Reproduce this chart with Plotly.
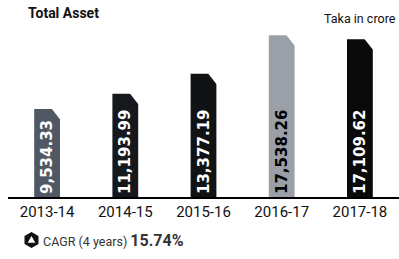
import plotly.graph_objects as go

years = ["2013-14", "2014-15", "2015-16", "2016-17", "2017-18"]
total_asset = [9534.33, 11193.99, 13377.19, 17538.26, 17109.62]
bar_colors = ["#4f5863", "#15181d", "#111214", "#9b9fa7", "#0a0a0a"]
label_colors = ["white", "white", "white", "black", "white"]

title_text = "Total Asset"
unit_text = "Taka in crore"
cagr_label = "CAGR (4 years)"
cagr_value = "15.74%"

NARROW = "Roboto, Liberation Sans, sans-serif"

fig = go.Figure(
    go.Bar(
        x=years,
        y=total_asset,
        marker=dict(color=bar_colors, line=dict(width=0)),
        texttemplate="%{y:,.2f}",
        textposition="inside",
        insidetextanchor="start",
        textangle=-90,
        insidetextfont=dict(family="DejaVu Sans", size=15, color=label_colors, weight="bold"),
        hoverinfo="skip",
    )
)

# chamfered top-right corner of each bar (white triangle anchored at the bar top)
corner_cuts = [
    dict(
        type="path",
        xref="x", yref="y",
        xsizemode="pixel", ysizemode="pixel",
        xanchor=cat, yanchor=val,
        path="M 4 1 L 15 1 L 15 -13 Z",
        fillcolor="white", line=dict(width=0),
        layer="above",
    )
    for cat, val in zip(years, total_asset)
]

icon_shapes = [
    dict(
        type="path",
        xref="paper", yref="paper",
        xsizemode="pixel", ysizemode="pixel",
        xanchor=(31.5 - 8) / 391, yanchor=(197 - 240) / 177,
        path="M 0 8 L 7 4 L 7 -4 L 0 -8 L -7 -4 L -7 4 Z",
        fillcolor="#111", line=dict(width=0),
    ),
    dict(
        type="path",
        xref="paper", yref="paper",
        xsizemode="pixel", ysizemode="pixel",
        xanchor=(31.5 - 8) / 391, yanchor=(197 - 240) / 177,
        path="M 0 4 L 3.8 -2.8 L -3.8 -2.8 Z",
        fillcolor="white", line=dict(width=0),
    ),
]

fig.update_layout(
    width=399,
    height=259,
    margin=dict(l=8, r=0, t=20, b=62),
    paper_bgcolor="white",
    plot_bgcolor="white",
    bargap=0.67,
    showlegend=False,
    xaxis=dict(
        type="category",
        range=[-0.5, 4.5],
        showline=True,
        linecolor="black",
        linewidth=2,
        ticks="",
        showgrid=False,
        tickfont=dict(family=NARROW, size=15, color="#111"),
        fixedrange=True,
    ),
    yaxis=dict(
        range=[0, 19200],
        visible=False,
        showgrid=False,
        zeroline=False,
        fixedrange=True,
    ),
    annotations=[
        dict(
            text="<b>" + title_text + "</b>",
            xref="paper", yref="paper",
            x=(26 - 8) / 391, y=(197 - 3) / 177,
            xanchor="left", yanchor="top",
            showarrow=False,
            font=dict(family=NARROW, size=14, color="#111"),
        ),
        dict(
            text=unit_text,
            xref="paper", yref="paper",
            x=(398 - 8) / 391, y=(197 - 9) / 177,
            xanchor="right", yanchor="top",
            showarrow=False,
            font=dict(family=NARROW, size=12.5, color="#111"),
        ),
        dict(
            text=cagr_label + " <span style='font-size:16px'><b>" + cagr_value + "</b></span>",
            xref="paper", yref="paper",
            x=(41 - 8) / 391, y=(197 - 240) / 177,
            xanchor="left", yanchor="middle",
            showarrow=False,
            font=dict(family=NARROW, size=12.5, color="#333"),
        ),
    ],
    shapes=corner_cuts + icon_shapes,
)

fig.write_html(
    "out.html",
    config={"displayModeBar": False},
    post_script="document.body.style.margin='0';document.body.style.overflow='hidden';",
)
